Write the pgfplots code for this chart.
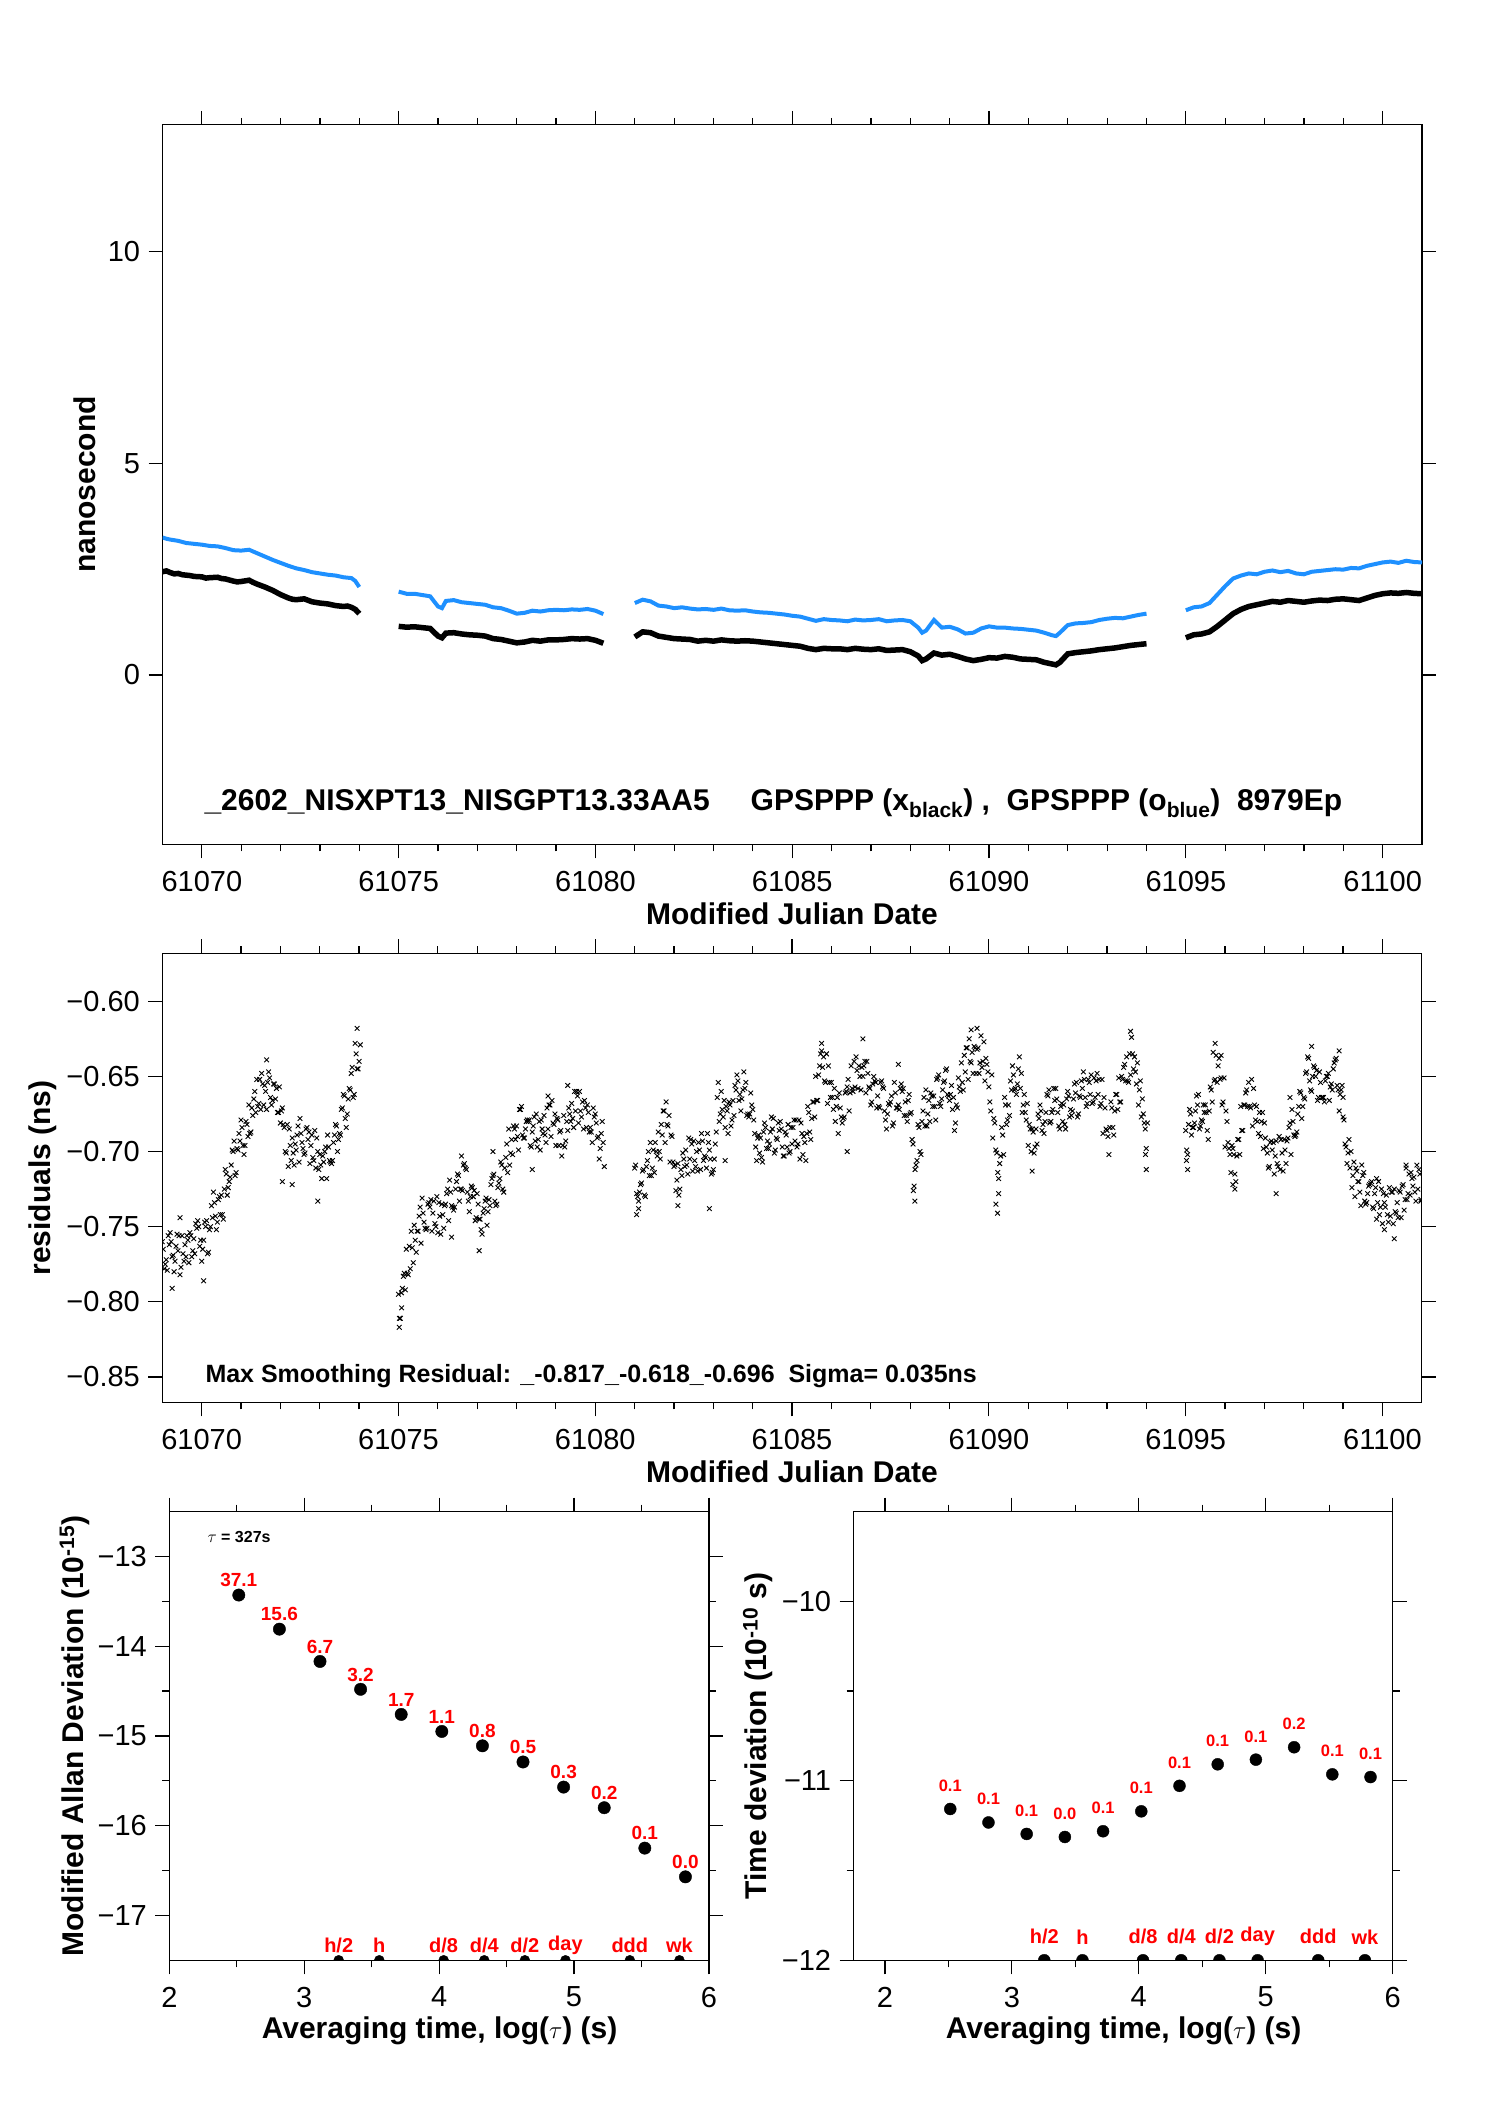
\documentclass[border=0pt]{standalone}
\usepackage{fontspec}
\setmainfont{Liberation Sans}
\usepackage{pgfplots}
\pgfplotsset{compat=1.18}
\definecolor{myblue}{RGB}{30,144,255}
\pgfplotsset{
  myaxis/.style={
    scale only axis, anchor=south west,
    axis line style={line width=1.2bp},
    every tick/.style={line width=1.2bp, black},
    tick align=outside, tick pos=both,
    major tick length=14bp, minor tick length=7bp,
    tick label style={font=\fontsize{29bp}{34bp}\selectfont},
    xticklabel style={yshift=-9bp}, yticklabel style={xshift=-5bp},
    scaled x ticks=false, scaled y ticks=false,
    clip marker paths=true,
  },
  resid/.style={only marks, mark=x, mark size=3.3bp, mark options={line width=0.9bp, black}},
}
\newcommand{\bl}{\bfseries\fontsize{30bp}{36bp}\selectfont}
\begin{document}
\begin{tikzpicture}
\path[use as bounding box] (0bp,0bp) rectangle (1488bp,2105bp);
% ---------------- top panel
\begin{axis}[myaxis, at={(162.5bp,1260.7bp)}, width=1259.5bp, height=719.4bp,
  xmin=61069, xmax=61101, ymin=-4, ymax=13,
  xtick={61070,61075,61080,61085,61090,61095,61100},
  xticklabels={61070,61075,61080,61085,61090,61095,61100},
  minor x tick num=4,
  ytick={0,5,10}, yticklabels={0,5,10}]
\addplot[black, line width=5.5bp] coordinates {(61069.0,2.44)(61069.1,2.46)(61069.2,2.42)(61069.3,2.39)(61069.4,2.40)(61069.5,2.37)(61069.6,2.36)(61069.7,2.35)(61069.8,2.33)(61070.0,2.32)(61070.1,2.29)(61070.2,2.30)(61070.4,2.31)(61070.5,2.28)(61070.6,2.27)(61070.8,2.22)(61070.9,2.20)(61071.0,2.21)(61071.2,2.24)(61071.3,2.19)(61071.4,2.15)(61071.6,2.08)(61071.8,2.00)(61072.0,1.90)(61072.2,1.82)(61072.3,1.79)(61072.4,1.78)(61072.6,1.80)(61072.8,1.73)(61073.0,1.70)(61073.2,1.68)(61073.4,1.64)(61073.6,1.62)(61073.7,1.63)(61073.8,1.60)(61073.9,1.55)(61074.0,1.45)};
\addplot[black, line width=5.5bp] coordinates {(61075.0,1.15)(61075.2,1.13)(61075.4,1.14)(61075.6,1.12)(61075.8,1.10)(61076.0,0.92)(61076.1,0.88)(61076.2,0.99)(61076.4,1.00)(61076.6,0.97)(61076.8,0.95)(61077.0,0.94)(61077.2,0.92)(61077.4,0.86)(61077.6,0.84)(61077.8,0.80)(61078.0,0.76)(61078.2,0.78)(61078.4,0.82)(61078.6,0.80)(61078.8,0.83)(61079.0,0.83)(61079.2,0.84)(61079.4,0.86)(61079.6,0.85)(61079.8,0.86)(61080.0,0.82)(61080.2,0.75)};
\addplot[black, line width=5.5bp] coordinates {(61081.0,0.90)(61081.2,1.02)(61081.4,1.00)(61081.6,0.92)(61081.8,0.89)(61082.0,0.86)(61082.2,0.85)(61082.4,0.84)(61082.6,0.80)(61082.8,0.82)(61083.0,0.80)(61083.2,0.83)(61083.4,0.81)(61083.6,0.80)(61083.8,0.81)(61084.0,0.80)(61084.2,0.78)(61084.4,0.76)(61084.6,0.74)(61084.8,0.72)(61085.0,0.70)(61085.2,0.68)(61085.4,0.63)(61085.6,0.60)(61085.8,0.63)(61086.0,0.62)(61086.2,0.62)(61086.4,0.60)(61086.6,0.63)(61086.8,0.61)(61087.0,0.60)(61087.2,0.62)(61087.4,0.58)(61087.6,0.59)(61087.8,0.60)(61088.0,0.55)(61088.2,0.45)(61088.3,0.34)(61088.4,0.38)(61088.6,0.52)(61088.8,0.47)(61089.0,0.49)(61089.2,0.44)(61089.4,0.38)(61089.6,0.34)(61089.8,0.37)(61090.0,0.41)(61090.2,0.40)(61090.4,0.44)(61090.6,0.42)(61090.8,0.38)(61091.0,0.37)(61091.2,0.36)(61091.4,0.30)(61091.6,0.26)(61091.7,0.24)(61091.8,0.30)(61092.0,0.50)(61092.2,0.53)(61092.4,0.55)(61092.6,0.57)(61092.8,0.60)(61093.0,0.62)(61093.2,0.64)(61093.4,0.67)(61093.6,0.70)(61093.8,0.72)(61094.0,0.74)};
\addplot[black, line width=5.5bp] coordinates {(61095.0,0.88)(61095.2,0.95)(61095.4,0.97)(61095.6,1.02)(61095.8,1.15)(61096.0,1.30)(61096.2,1.45)(61096.4,1.55)(61096.6,1.62)(61096.8,1.66)(61097.0,1.70)(61097.2,1.74)(61097.4,1.72)(61097.6,1.76)(61097.8,1.74)(61098.0,1.72)(61098.2,1.75)(61098.4,1.77)(61098.6,1.76)(61098.8,1.79)(61099.0,1.80)(61099.2,1.78)(61099.4,1.76)(61099.6,1.82)(61099.8,1.88)(61100.0,1.92)(61100.2,1.94)(61100.4,1.93)(61100.6,1.95)(61100.8,1.93)(61101.0,1.92)};
\addplot[myblue, line width=4bp] coordinates {(61069.0,3.25)(61069.1,3.22)(61069.2,3.20)(61069.4,3.17)(61069.6,3.12)(61069.8,3.10)(61070.0,3.08)(61070.2,3.05)(61070.4,3.04)(61070.6,3.00)(61070.8,2.95)(61071.0,2.94)(61071.2,2.96)(61071.4,2.88)(61071.6,2.80)(61071.8,2.72)(61072.0,2.65)(61072.2,2.58)(61072.4,2.52)(61072.6,2.48)(61072.8,2.43)(61073.0,2.40)(61073.2,2.37)(61073.4,2.35)(61073.6,2.31)(61073.8,2.29)(61073.9,2.22)(61074.0,2.08)};
\addplot[myblue, line width=4bp] coordinates {(61075.0,1.97)(61075.2,1.92)(61075.4,1.92)(61075.6,1.89)(61075.8,1.86)(61076.0,1.62)(61076.1,1.58)(61076.2,1.75)(61076.4,1.77)(61076.6,1.72)(61076.8,1.70)(61077.0,1.68)(61077.2,1.66)(61077.4,1.60)(61077.6,1.58)(61077.8,1.52)(61078.0,1.45)(61078.2,1.47)(61078.4,1.52)(61078.6,1.50)(61078.8,1.53)(61079.0,1.54)(61079.2,1.53)(61079.4,1.55)(61079.6,1.54)(61079.8,1.56)(61080.0,1.52)(61080.2,1.44)};
\addplot[myblue, line width=4bp] coordinates {(61081.0,1.70)(61081.2,1.78)(61081.4,1.74)(61081.6,1.64)(61081.8,1.62)(61082.0,1.58)(61082.2,1.60)(61082.4,1.57)(61082.6,1.55)(61082.8,1.56)(61083.0,1.54)(61083.2,1.57)(61083.4,1.53)(61083.6,1.52)(61083.8,1.53)(61084.0,1.50)(61084.2,1.48)(61084.4,1.47)(61084.6,1.45)(61084.8,1.43)(61085.0,1.40)(61085.2,1.38)(61085.4,1.33)(61085.6,1.28)(61085.8,1.32)(61086.0,1.30)(61086.2,1.29)(61086.4,1.27)(61086.6,1.31)(61086.8,1.29)(61087.0,1.30)(61087.2,1.32)(61087.4,1.27)(61087.6,1.29)(61087.8,1.30)(61088.0,1.27)(61088.2,1.12)(61088.3,1.00)(61088.4,1.05)(61088.6,1.30)(61088.8,1.12)(61089.0,1.14)(61089.2,1.08)(61089.4,0.98)(61089.6,1.00)(61089.8,1.10)(61090.0,1.15)(61090.2,1.12)(61090.4,1.12)(61090.6,1.10)(61090.8,1.09)(61091.0,1.07)(61091.2,1.05)(61091.4,1.00)(61091.6,0.94)(61091.7,0.92)(61091.8,1.00)(61092.0,1.18)(61092.2,1.22)(61092.4,1.23)(61092.6,1.25)(61092.8,1.30)(61093.0,1.33)(61093.2,1.35)(61093.4,1.34)(61093.6,1.38)(61093.8,1.42)(61094.0,1.45)};
\addplot[myblue, line width=4bp] coordinates {(61095.0,1.53)(61095.2,1.60)(61095.4,1.62)(61095.6,1.70)(61095.8,1.90)(61096.0,2.10)(61096.2,2.28)(61096.4,2.35)(61096.6,2.40)(61096.8,2.38)(61097.0,2.44)(61097.2,2.47)(61097.4,2.43)(61097.6,2.46)(61097.8,2.40)(61098.0,2.38)(61098.2,2.44)(61098.4,2.46)(61098.6,2.48)(61098.8,2.50)(61099.0,2.49)(61099.2,2.53)(61099.4,2.52)(61099.6,2.58)(61099.8,2.62)(61100.0,2.66)(61100.2,2.68)(61100.4,2.65)(61100.6,2.70)(61100.8,2.67)(61101.0,2.66)};
\end{axis}
% ---------------- middle panel
\begin{axis}[myaxis, at={(162.3bp,702.5bp)}, width=1259.5bp, height=449.3bp,
  xmin=61069, xmax=61101, ymin=-0.867, ymax=-0.568,
  xtick={61070,61075,61080,61085,61090,61095,61100},
  xticklabels={61070,61075,61080,61085,61090,61095,61100},
  minor x tick num=4,
  ytick={-0.85,-0.80,-0.75,-0.70,-0.65,-0.60},
  yticklabels={−0.85,−0.80,−0.75,−0.70,−0.65,−0.60}]
\addplot[resid] coordinates {
(61069.00,-0.760)(61069.05,-0.778)(61069.10,-0.772)(61069.15,-0.756)(61069.20,-0.754)(61069.25,-0.770)(61069.30,-0.780)(61069.35,-0.763)(61069.40,-0.766)(61069.45,-0.782)
(61069.50,-0.756)(61069.55,-0.773)(61069.60,-0.770)(61069.65,-0.759)(61069.70,-0.754)(61069.75,-0.770)(61069.80,-0.758)(61069.85,-0.748)(61069.90,-0.746)(61069.95,-0.763)
(61070.00,-0.773)(61070.05,-0.759)(61070.10,-0.750)(61070.15,-0.768)(61070.20,-0.752)(61070.25,-0.736)(61070.30,-0.727)(61070.35,-0.743)(61070.40,-0.747)(61070.45,-0.730)
(61070.50,-0.729)(61070.55,-0.745)(61070.60,-0.712)(61070.65,-0.729)(61070.70,-0.720)(61070.75,-0.709)(61070.80,-0.700)(61070.85,-0.716)(61070.90,-0.698)(61070.95,-0.688)
(61071.00,-0.679)(61071.05,-0.696)(61071.10,-0.696)(61071.15,-0.682)(61071.20,-0.669)(61071.25,-0.687)(61071.30,-0.676)(61071.35,-0.660)(61071.40,-0.652)(61071.45,-0.668)
(61071.50,-0.672)(61071.55,-0.655)(61071.60,-0.656)(61071.65,-0.672)(61071.70,-0.647)(61071.75,-0.664)(61071.80,-0.666)(61071.85,-0.655)(61071.90,-0.658)(61071.95,-0.674)
(61072.00,-0.681)(61072.05,-0.671)(61072.10,-0.684)(61072.15,-0.701)(61072.20,-0.710)(61072.25,-0.696)(61072.30,-0.691)(61072.35,-0.709)(61072.40,-0.699)(61072.45,-0.683)
(61072.50,-0.678)(61072.55,-0.694)(61072.60,-0.702)(61072.65,-0.685)(61072.70,-0.692)(61072.75,-0.708)(61072.80,-0.689)(61072.85,-0.706)(61072.90,-0.711)(61072.95,-0.700)
(61073.00,-0.702)(61073.05,-0.718)(61073.10,-0.707)(61073.15,-0.697)(61073.20,-0.689)(61073.25,-0.706)(61073.30,-0.708)(61073.35,-0.694)(61073.40,-0.682)(61073.45,-0.700)
(61073.50,-0.688)(61073.55,-0.672)(61073.60,-0.662)(61073.65,-0.678)(61073.70,-0.675)(61073.75,-0.658)(61073.80,-0.648)(61073.85,-0.664)(61073.90,-0.628)(61073.95,-0.645)
(61074.00,-0.640)(61074.03,-0.629)
(61071.65,-0.639)(61072.30,-0.722)(61072.95,-0.733)(61073.95,-0.618)(61069.25,-0.791)(61069.45,-0.744)(61070.05,-0.786)(61072.05,-0.720)
(61075.00,-0.795)(61075.05,-0.811)(61075.10,-0.791)(61075.15,-0.781)(61075.20,-0.765)(61075.25,-0.782)(61075.30,-0.778)(61075.35,-0.764)(61075.40,-0.749)(61075.45,-0.767)
(61075.50,-0.753)(61075.55,-0.737)(61075.60,-0.731)(61075.65,-0.747)(61075.70,-0.752)(61075.75,-0.735)(61075.80,-0.737)(61075.85,-0.753)(61075.90,-0.733)(61075.95,-0.750)
(61076.00,-0.754)(61076.05,-0.743)(61076.10,-0.735)(61076.15,-0.751)(61076.20,-0.735)(61076.25,-0.725)(61076.30,-0.719)(61076.35,-0.736)(61076.40,-0.739)(61076.45,-0.725)
(61076.50,-0.715)(61076.55,-0.733)(61076.60,-0.725)(61076.65,-0.709)(61076.70,-0.711)(61076.75,-0.727)(61076.80,-0.740)(61076.85,-0.723)(61076.90,-0.730)(61076.95,-0.746)
(61077.00,-0.728)(61077.05,-0.745)(61077.10,-0.752)(61077.15,-0.741)(61077.20,-0.733)(61077.25,-0.749)(61077.30,-0.732)(61077.35,-0.722)(61077.40,-0.716)(61077.45,-0.733)
(61077.50,-0.735)(61077.55,-0.721)(61077.60,-0.707)(61077.65,-0.725)(61077.70,-0.711)(61077.75,-0.695)(61077.80,-0.685)(61077.85,-0.701)(61077.90,-0.702)(61077.95,-0.685)
(61078.00,-0.683)(61078.05,-0.699)(61078.10,-0.672)(61078.15,-0.689)(61078.20,-0.691)(61078.25,-0.680)(61078.30,-0.680)(61078.35,-0.696)(61078.40,-0.687)(61078.45,-0.677)
(61078.50,-0.675)(61078.55,-0.692)(61078.60,-0.699)(61078.65,-0.685)(61078.70,-0.676)(61078.75,-0.694)(61078.80,-0.685)(61078.85,-0.669)(61078.90,-0.666)(61078.95,-0.682)
(61079.00,-0.696)(61079.05,-0.679)(61079.10,-0.687)(61079.15,-0.703)(61079.20,-0.676)(61079.25,-0.693)(61079.30,-0.686)(61079.35,-0.675)(61079.40,-0.668)(61079.45,-0.684)
(61079.50,-0.673)(61079.55,-0.663)(61079.60,-0.660)(61079.65,-0.677)(61079.70,-0.685)(61079.75,-0.671)(61079.80,-0.669)(61079.85,-0.687)(61079.90,-0.687)(61079.95,-0.671)
(61080.00,-0.675)(61080.05,-0.691)(61080.10,-0.705)(61080.15,-0.688)(61080.20,-0.694)(61080.23,-0.710)
(61075.02,-0.817)(61075.08,-0.804)(61076.60,-0.703)(61077.05,-0.766)(61076.35,-0.757)(61078.40,-0.712)(61079.30,-0.656)(61078.80,-0.663)(61077.40,-0.700)
(61081.00,-0.711)(61081.05,-0.728)(61081.10,-0.733)(61081.15,-0.722)(61081.20,-0.713)(61081.25,-0.729)(61081.30,-0.710)(61081.35,-0.700)(61081.40,-0.694)(61081.45,-0.711)
(61081.50,-0.714)(61081.55,-0.700)(61081.60,-0.687)(61081.65,-0.705)(61081.70,-0.689)(61081.75,-0.673)(61081.80,-0.667)(61081.85,-0.683)(61081.90,-0.707)(61081.95,-0.690)
(61082.00,-0.710)(61082.05,-0.726)(61082.10,-0.708)(61082.15,-0.725)(61082.20,-0.716)(61082.25,-0.705)(61082.30,-0.699)(61082.35,-0.715)(61082.40,-0.705)(61082.45,-0.695)
(61082.50,-0.693)(61082.55,-0.710)(61082.60,-0.713)(61082.65,-0.699)(61082.70,-0.688)(61082.75,-0.706)(61082.80,-0.704)(61082.85,-0.688)(61082.90,-0.699)(61082.95,-0.715)
(61083.00,-0.712)(61083.05,-0.695)(61083.10,-0.664)(61083.15,-0.680)(61083.20,-0.660)(61083.25,-0.677)(61083.30,-0.684)(61083.35,-0.673)(61083.40,-0.667)(61083.45,-0.683)
(61083.50,-0.666)(61083.55,-0.656)(61083.60,-0.649)(61083.65,-0.666)(61083.70,-0.673)(61083.75,-0.659)(61083.80,-0.658)(61083.85,-0.676)(61083.90,-0.677)(61083.95,-0.661)
(61084.00,-0.672)(61084.05,-0.688)(61084.10,-0.706)(61084.15,-0.689)(61084.20,-0.691)(61084.25,-0.707)(61084.30,-0.681)(61084.35,-0.698)(61084.40,-0.698)(61084.45,-0.687)
(61084.50,-0.685)(61084.55,-0.701)(61084.60,-0.691)(61084.65,-0.681)(61084.70,-0.680)(61084.75,-0.697)(61084.80,-0.703)(61084.85,-0.689)(61084.90,-0.682)(61084.95,-0.700)
(61085.00,-0.695)(61085.05,-0.679)(61085.10,-0.679)(61085.15,-0.695)(61085.20,-0.705)(61085.25,-0.688)(61085.30,-0.690)(61085.35,-0.706)(61085.40,-0.670)(61085.45,-0.687)
(61085.50,-0.678)(61085.55,-0.667)(61085.60,-0.650)(61085.65,-0.666)(61085.70,-0.643)(61085.75,-0.633)(61085.80,-0.637)(61085.85,-0.654)(61085.90,-0.668)(61085.95,-0.654)
(61086.00,-0.654)(61086.05,-0.672)(61086.10,-0.680)(61086.15,-0.664)(61086.20,-0.661)(61086.25,-0.677)(61086.30,-0.678)(61086.35,-0.661)(61086.40,-0.657)(61086.45,-0.673)
(61086.50,-0.643)(61086.55,-0.660)(61086.60,-0.657)(61086.65,-0.646)(61086.70,-0.643)(61086.75,-0.659)(61086.80,-0.650)(61086.85,-0.640)(61086.90,-0.640)(61086.95,-0.657)
(61087.00,-0.669)(61087.05,-0.655)(61087.10,-0.653)(61087.15,-0.671)(61087.20,-0.670)(61087.25,-0.654)(61087.30,-0.657)(61087.35,-0.673)(61087.40,-0.685)(61087.45,-0.668)
(61087.50,-0.667)(61087.55,-0.683)(61087.60,-0.654)(61087.65,-0.671)(61087.70,-0.669)(61087.75,-0.658)(61087.80,-0.660)(61087.85,-0.676)(61087.90,-0.676)(61087.95,-0.666)
(61088.00,-0.675)(61088.05,-0.692)(61088.10,-0.723)(61088.15,-0.709)(61088.20,-0.682)(61088.25,-0.700)(61088.30,-0.680)(61088.35,-0.664)(61088.40,-0.659)(61088.45,-0.675)
(61088.50,-0.680)(61088.55,-0.663)(61088.60,-0.663)(61088.65,-0.679)(61088.70,-0.651)(61088.75,-0.668)(61088.80,-0.665)(61088.85,-0.654)(61088.90,-0.646)(61088.95,-0.662)
(61089.00,-0.666)(61089.05,-0.656)(61089.10,-0.664)(61089.15,-0.681)(61089.20,-0.671)(61089.25,-0.657)(61089.30,-0.641)(61089.35,-0.659)(61089.40,-0.647)(61089.45,-0.631)
(61089.50,-0.625)(61089.55,-0.641)(61089.60,-0.648)(61089.65,-0.631)(61089.70,-0.632)(61089.75,-0.648)(61089.80,-0.623)(61089.85,-0.640)(61089.90,-0.653)(61089.95,-0.642)
(61090.00,-0.657)(61090.05,-0.673)(61090.10,-0.691)(61090.15,-0.681)(61090.20,-0.701)(61090.25,-0.718)(61090.30,-0.703)(61090.35,-0.689)(61090.40,-0.664)(61090.45,-0.682)
(61090.50,-0.669)(61090.55,-0.653)(61090.60,-0.643)(61090.65,-0.659)(61090.70,-0.662)(61090.75,-0.645)(61090.80,-0.658)(61090.85,-0.674)(61090.90,-0.662)(61090.95,-0.679)
(61091.00,-0.696)(61091.05,-0.685)(61091.10,-0.685)(61091.15,-0.701)(61091.20,-0.685)(61091.25,-0.675)(61091.30,-0.669)(61091.35,-0.686)(61091.40,-0.688)(61091.45,-0.674)
(61091.50,-0.663)(61091.55,-0.681)(61091.60,-0.674)(61091.65,-0.658)(61091.70,-0.658)(61091.75,-0.674)(61091.80,-0.685)(61091.85,-0.668)(61091.90,-0.669)(61091.95,-0.685)
(61092.00,-0.660)(61092.05,-0.677)(61092.10,-0.676)(61092.15,-0.665)(61092.20,-0.661)(61092.25,-0.677)(61092.30,-0.663)(61092.35,-0.653)(61092.40,-0.647)(61092.45,-0.664)
(61092.50,-0.668)(61092.55,-0.654)(61092.60,-0.649)(61092.65,-0.667)(61092.70,-0.664)(61092.75,-0.648)(61092.80,-0.652)(61092.85,-0.668)(61092.90,-0.688)(61092.95,-0.671)
(61093.00,-0.686)(61093.05,-0.702)(61093.10,-0.667)(61093.15,-0.684)(61093.20,-0.673)(61093.25,-0.662)(61093.30,-0.651)(61093.35,-0.667)(61093.40,-0.652)(61093.45,-0.642)
(61093.50,-0.637)(61093.55,-0.654)(61093.60,-0.649)(61093.65,-0.635)(61093.70,-0.637)(61093.75,-0.655)(61093.80,-0.669)(61093.85,-0.653)(61093.90,-0.665)(61093.95,-0.681)
(61094.00,-0.698)(61094.03,-0.681)
(61088.12,-0.733)(61088.08,-0.726)(61090.22,-0.741)(61090.18,-0.735)(61090.25,-0.728)(61093.60,-0.620)(61089.70,-0.618)(61089.55,-0.619)(61086.80,-0.625)(61085.75,-0.628)
(61081.05,-0.742)(61081.10,-0.738)(61082.10,-0.736)(61082.90,-0.738)(61094.00,-0.712)(61093.98,-0.702)(61083.30,-0.706)(61087.70,-0.642)(61086.40,-0.700)(61091.10,-0.713)
(61095.00,-0.686)(61095.05,-0.702)(61095.10,-0.672)(61095.15,-0.689)(61095.20,-0.684)(61095.25,-0.673)(61095.30,-0.669)(61095.35,-0.685)(61095.40,-0.679)(61095.45,-0.669)
(61095.50,-0.669)(61095.55,-0.686)(61095.60,-0.673)(61095.65,-0.659)(61095.70,-0.634)(61095.75,-0.652)(61095.80,-0.654)(61095.85,-0.638)(61095.90,-0.651)(61095.95,-0.667)
(61096.00,-0.697)(61096.05,-0.680)(61096.10,-0.698)(61096.15,-0.714)(61096.20,-0.698)(61096.25,-0.715)(61096.30,-0.703)(61096.35,-0.692)(61096.40,-0.670)(61096.45,-0.686)
(61096.50,-0.669)(61096.55,-0.659)(61096.60,-0.654)(61096.65,-0.671)(61096.70,-0.683)(61096.75,-0.669)(61096.80,-0.670)(61096.85,-0.688)(61096.90,-0.690)(61096.95,-0.674)
(61097.00,-0.681)(61097.05,-0.697)(61097.10,-0.711)(61097.15,-0.694)(61097.20,-0.699)(61097.25,-0.715)(61097.30,-0.693)(61097.35,-0.710)(61097.40,-0.712)(61097.45,-0.701)
(61097.50,-0.692)(61097.55,-0.708)(61097.60,-0.691)(61097.65,-0.681)(61097.70,-0.672)(61097.75,-0.689)(61097.80,-0.689)(61097.85,-0.675)(61097.90,-0.660)(61097.95,-0.678)
(61098.00,-0.664)(61098.05,-0.648)(61098.10,-0.637)(61098.15,-0.653)(61098.20,-0.660)(61098.25,-0.643)(61098.30,-0.650)(61098.35,-0.666)(61098.40,-0.647)(61098.45,-0.664)
(61098.50,-0.664)(61098.55,-0.653)(61098.60,-0.650)(61098.65,-0.666)(61098.70,-0.655)(61098.75,-0.645)(61098.80,-0.639)(61098.85,-0.656)(61098.90,-0.673)(61098.95,-0.659)
(61099.00,-0.677)(61099.05,-0.695)(61099.10,-0.708)(61099.15,-0.692)(61099.20,-0.700)(61099.25,-0.716)(61099.30,-0.730)(61099.35,-0.713)(61099.40,-0.720)(61099.45,-0.736)
(61099.50,-0.716)(61099.55,-0.733)(61099.60,-0.734)(61099.65,-0.723)(61099.70,-0.721)(61099.75,-0.737)(61099.80,-0.728)(61099.85,-0.718)(61099.90,-0.720)(61099.95,-0.737)
(61100.00,-0.748)(61100.05,-0.734)(61100.10,-0.729)(61100.15,-0.747)(61100.20,-0.743)(61100.25,-0.727)(61100.30,-0.725)(61100.35,-0.741)(61100.40,-0.744)(61100.45,-0.727)
(61100.50,-0.723)(61100.55,-0.739)(61100.60,-0.711)(61100.65,-0.728)(61100.70,-0.729)(61100.75,-0.718)(61100.80,-0.717)(61100.85,-0.733)(61100.90,-0.725)(61100.95,-0.715)
(61100.98,-0.732)
(61095.05,-0.712)(61095.02,-0.706)(61095.75,-0.628)(61096.20,-0.722)(61096.25,-0.725)(61095.90,-0.636)(61097.30,-0.728)(61098.20,-0.630)(61098.90,-0.633)(61099.00,-0.664)
(61100.05,-0.752)(61100.30,-0.758)(61100.60,-0.709)(61099.85,-0.745)(61097.65,-0.664)
};
\addplot[resid] coordinates {
(61069.025,-0.765)(61069.075,-0.775)(61069.125,-0.779)(61069.175,-0.762)(61069.225,-0.760)(61069.275,-0.769)(61069.325,-0.773)(61069.375,-0.755)(61069.425,-0.756)(61069.475,-0.777)
(61069.525,-0.768)(61069.575,-0.762)(61069.625,-0.756)(61069.675,-0.774)(61069.725,-0.756)(61069.775,-0.766)(61069.825,-0.768)(61069.875,-0.751)(61069.925,-0.750)(61069.975,-0.759)
(61070.025,-0.765)(61070.075,-0.747)(61070.125,-0.746)(61070.175,-0.767)(61070.225,-0.750)(61070.275,-0.744)(61070.325,-0.734)(61070.375,-0.752)(61070.425,-0.732)(61070.475,-0.742)
(61070.525,-0.742)(61070.575,-0.725)(61070.625,-0.715)(61070.675,-0.724)(61070.725,-0.717)(61070.775,-0.699)(61070.825,-0.693)(61070.875,-0.714)(61070.925,-0.699)(61070.975,-0.693)
(61071.025,-0.684)(61071.075,-0.702)(61071.125,-0.680)(61071.175,-0.690)(61071.225,-0.688)(61071.275,-0.671)(61071.325,-0.665)(61071.375,-0.674)(61071.425,-0.670)(61071.475,-0.652)
(61071.525,-0.648)(61071.575,-0.669)(61071.625,-0.660)(61071.675,-0.654)(61071.725,-0.651)(61071.775,-0.669)(61071.825,-0.655)(61071.875,-0.665)(61071.925,-0.674)(61071.975,-0.657)
(61072.025,-0.673)(61072.075,-0.682)(61072.125,-0.700)(61072.175,-0.682)(61072.225,-0.685)(61072.275,-0.706)(61072.325,-0.701)(61072.375,-0.695)(61072.425,-0.689)(61072.475,-0.707)
(61072.525,-0.688)(61072.575,-0.698)(61072.625,-0.701)(61072.675,-0.684)(61072.725,-0.687)(61072.775,-0.696)(61072.825,-0.704)(61072.875,-0.686)(61072.925,-0.691)(61072.975,-0.712)
(61073.025,-0.709)(61073.075,-0.703)(61073.125,-0.700)(61073.175,-0.718)(61073.225,-0.697)(61073.275,-0.707)(61073.325,-0.706)(61073.375,-0.689)(61073.425,-0.683)(61073.475,-0.692)
(61073.525,-0.689)(61073.575,-0.671)(61073.625,-0.663)(61073.675,-0.684)(61073.725,-0.665)(61073.775,-0.659)(61073.825,-0.644)(61073.875,-0.662)(61073.925,-0.635)(61073.975,-0.645)
(61075.025,-0.811)(61075.075,-0.794)(61075.125,-0.783)(61075.175,-0.792)(61075.225,-0.781)(61075.275,-0.763)(61075.325,-0.753)(61075.375,-0.774)(61075.425,-0.759)(61075.475,-0.753)
(61075.525,-0.743)(61075.575,-0.761)(61075.625,-0.741)(61075.675,-0.751)(61075.725,-0.751)(61075.775,-0.734)(61075.825,-0.732)(61075.875,-0.741)(61075.925,-0.748)(61075.975,-0.730)
(61076.025,-0.734)(61076.075,-0.755)(61076.125,-0.742)(61076.175,-0.736)(61076.225,-0.728)(61076.275,-0.746)(61076.325,-0.727)(61076.375,-0.737)(61076.425,-0.737)(61076.475,-0.720)
(61076.525,-0.716)(61076.575,-0.725)(61076.625,-0.726)(61076.675,-0.708)(61076.725,-0.712)(61076.775,-0.733)(61076.825,-0.730)(61076.875,-0.724)(61076.925,-0.726)(61076.975,-0.744)
(61077.025,-0.735)(61077.075,-0.745)(61077.125,-0.755)(61077.175,-0.738)(61077.225,-0.731)(61077.275,-0.740)(61077.325,-0.736)(61077.375,-0.718)(61077.425,-0.715)(61077.475,-0.736)
(61077.525,-0.724)(61077.575,-0.718)(61077.625,-0.709)(61077.675,-0.727)(61077.725,-0.704)(61077.775,-0.714)(61077.825,-0.709)(61077.875,-0.692)(61077.925,-0.683)(61077.975,-0.692)
(61078.025,-0.690)(61078.075,-0.672)(61078.125,-0.670)(61078.175,-0.691)(61078.225,-0.685)(61078.275,-0.679)(61078.325,-0.679)(61078.375,-0.697)(61078.425,-0.683)(61078.475,-0.693)
(61078.525,-0.697)(61078.575,-0.680)(61078.625,-0.679)(61078.675,-0.688)(61078.725,-0.689)(61078.775,-0.671)(61078.825,-0.669)(61078.875,-0.690)(61078.925,-0.681)(61078.975,-0.675)
(61079.025,-0.678)(61079.075,-0.696)(61079.125,-0.686)(61079.175,-0.696)(61079.225,-0.697)(61079.275,-0.680)(61079.325,-0.671)(61079.375,-0.680)(61079.425,-0.678)(61079.475,-0.660)
(61079.525,-0.660)(61079.575,-0.681)(61079.625,-0.673)(61079.675,-0.667)(61079.725,-0.666)(61079.775,-0.684)(61079.825,-0.674)(61079.875,-0.684)(61079.925,-0.694)(61079.975,-0.677)
(61080.025,-0.681)(61080.075,-0.690)(61080.125,-0.698)(61080.175,-0.680)
(61081.025,-0.709)(61081.075,-0.730)(61081.125,-0.727)(61081.175,-0.721)(61081.225,-0.712)(61081.275,-0.730)(61081.325,-0.706)(61081.375,-0.716)(61081.425,-0.716)(61081.475,-0.699)
(61081.525,-0.694)(61081.575,-0.703)(61081.625,-0.700)(61081.675,-0.682)(61081.725,-0.673)(61081.775,-0.694)(61081.825,-0.682)(61081.875,-0.676)(61081.925,-0.689)(61081.975,-0.707)
(61082.025,-0.709)(61082.075,-0.719)(61082.125,-0.729)(61082.175,-0.712)(61082.225,-0.701)(61082.275,-0.710)(61082.325,-0.709)(61082.375,-0.691)(61082.425,-0.692)(61082.475,-0.713)
(61082.525,-0.706)(61082.575,-0.700)(61082.625,-0.694)(61082.675,-0.712)(61082.725,-0.693)(61082.775,-0.703)(61082.825,-0.711)(61082.875,-0.694)(61082.925,-0.705)(61082.975,-0.714)
(61083.025,-0.705)(61083.075,-0.687)(61083.125,-0.654)(61083.175,-0.675)(61083.225,-0.672)(61083.275,-0.666)(61083.325,-0.670)(61083.375,-0.688)(61083.425,-0.669)(61083.475,-0.679)
(61083.525,-0.676)(61083.575,-0.659)(61083.625,-0.653)(61083.675,-0.662)(61083.725,-0.665)(61083.775,-0.647)(61083.825,-0.654)(61083.875,-0.675)(61083.925,-0.675)(61083.975,-0.669)
(61084.025,-0.679)(61084.075,-0.697)(61084.125,-0.691)(61084.175,-0.701)(61084.225,-0.704)(61084.275,-0.687)(61084.325,-0.684)(61084.375,-0.693)(61084.425,-0.695)(61084.475,-0.677)
(61084.525,-0.678)(61084.575,-0.699)(61084.625,-0.692)(61084.675,-0.686)(61084.725,-0.685)(61084.775,-0.703)(61084.825,-0.687)(61084.875,-0.697)(61084.925,-0.701)(61084.975,-0.684)
(61085.025,-0.684)(61085.075,-0.693)(61085.125,-0.697)(61085.175,-0.679)(61085.225,-0.681)(61085.275,-0.702)(61085.325,-0.694)(61085.375,-0.688)(61085.425,-0.674)(61085.475,-0.692)
(61085.525,-0.667)(61085.575,-0.677)(61085.625,-0.666)(61085.675,-0.649)(61085.725,-0.635)(61085.775,-0.644)(61085.825,-0.653)(61085.875,-0.635)(61085.925,-0.643)(61085.975,-0.664)
(61086.025,-0.664)(61086.075,-0.658)(61086.125,-0.670)(61086.175,-0.688)(61086.225,-0.671)(61086.275,-0.681)(61086.325,-0.677)(61086.375,-0.660)(61086.425,-0.652)(61086.475,-0.661)
(61086.525,-0.658)(61086.575,-0.640)(61086.625,-0.637)(61086.675,-0.658)(61086.725,-0.650)(61086.775,-0.644)(61086.825,-0.643)(61086.875,-0.661)(61086.925,-0.648)(61086.975,-0.658)
(61087.025,-0.667)(61087.075,-0.650)(61087.125,-0.654)(61087.175,-0.663)(61087.225,-0.671)(61087.275,-0.653)(61087.325,-0.658)(61087.375,-0.679)(61087.425,-0.675)(61087.475,-0.669)
(61087.525,-0.663)(61087.575,-0.681)(61087.625,-0.661)(61087.675,-0.671)(61087.725,-0.672)(61087.775,-0.655)(61087.825,-0.658)(61087.875,-0.667)(61087.925,-0.680)(61087.975,-0.662)
(61088.025,-0.674)(61088.075,-0.695)(61088.125,-0.712)(61088.175,-0.706)(61088.225,-0.684)(61088.275,-0.702)(61088.325,-0.673)(61088.375,-0.683)(61088.425,-0.683)(61088.475,-0.666)
(61088.525,-0.661)(61088.575,-0.670)(61088.625,-0.670)(61088.675,-0.652)(61088.725,-0.649)(61088.775,-0.670)(61088.825,-0.659)(61088.875,-0.653)(61088.925,-0.645)(61088.975,-0.663)
(61089.025,-0.662)(61089.075,-0.672)(61089.125,-0.686)(61089.175,-0.669)(61089.225,-0.651)(61089.275,-0.660)(61089.325,-0.654)(61089.375,-0.636)(61089.425,-0.631)(61089.475,-0.652)
(61089.525,-0.640)(61089.575,-0.634)(61089.625,-0.630)(61089.675,-0.648)(61089.725,-0.631)(61089.775,-0.641)(61089.825,-0.644)(61089.875,-0.627)(61089.925,-0.638)(61089.975,-0.647)
(61090.025,-0.667)(61090.075,-0.649)(61090.125,-0.678)(61090.175,-0.699)(61090.225,-0.714)(61090.275,-0.708)(61090.325,-0.684)(61090.375,-0.702)(61090.425,-0.669)(61090.475,-0.679)
(61090.525,-0.676)(61090.575,-0.659)(61090.625,-0.649)(61090.675,-0.658)(61090.725,-0.655)(61090.775,-0.637)(61090.825,-0.648)(61090.875,-0.669)(61090.925,-0.674)(61090.975,-0.668)
(61091.025,-0.682)(61091.075,-0.700)(61091.125,-0.687)(61091.175,-0.697)(61091.225,-0.695)(61091.275,-0.678)(61091.325,-0.673)(61091.375,-0.682)(61091.425,-0.680)(61091.475,-0.662)
(61091.525,-0.659)(61091.575,-0.680)(61091.625,-0.672)(61091.675,-0.666)(61091.725,-0.665)(61091.775,-0.683)(61091.825,-0.670)(61091.875,-0.680)(61091.925,-0.682)(61091.975,-0.665)
(61092.025,-0.663)(61092.075,-0.672)(61092.125,-0.673)(61092.175,-0.655)(61092.225,-0.654)(61092.275,-0.675)(61092.325,-0.664)(61092.375,-0.658)(61092.425,-0.652)(61092.475,-0.670)
(61092.525,-0.652)(61092.575,-0.662)(61092.625,-0.668)(61092.675,-0.651)(61092.725,-0.653)(61092.775,-0.662)(61092.825,-0.670)(61092.875,-0.652)(61092.925,-0.664)(61092.975,-0.685)
(61093.025,-0.690)(61093.075,-0.684)(61093.125,-0.671)(61093.175,-0.689)(61093.225,-0.662)(61093.275,-0.672)(61093.325,-0.667)(61093.375,-0.650)(61093.425,-0.644)(61093.475,-0.653)
(61093.525,-0.653)(61093.575,-0.635)(61093.625,-0.624)(61093.675,-0.645)(61093.725,-0.647)(61093.775,-0.641)(61093.825,-0.659)(61093.875,-0.677)(61093.925,-0.675)(61093.975,-0.685)
(61095.025,-0.699)(61095.075,-0.682)(61095.125,-0.675)(61095.175,-0.684)(61095.225,-0.681)(61095.275,-0.663)(61095.325,-0.662)(61095.375,-0.683)(61095.425,-0.680)(61095.475,-0.674)
(61095.525,-0.674)(61095.575,-0.692)(61095.625,-0.657)(61095.675,-0.667)(61095.725,-0.653)(61095.775,-0.636)(61095.825,-0.643)(61095.875,-0.652)(61095.925,-0.669)(61095.975,-0.651)
(61096.025,-0.673)(61096.075,-0.694)(61096.125,-0.702)(61096.175,-0.696)(61096.225,-0.702)(61096.275,-0.720)(61096.325,-0.692)(61096.375,-0.702)(61096.425,-0.686)(61096.475,-0.669)
(61096.525,-0.661)(61096.575,-0.670)(61096.625,-0.670)(61096.675,-0.652)(61096.725,-0.658)(61096.775,-0.679)(61096.825,-0.680)(61096.875,-0.674)(61096.925,-0.680)(61096.975,-0.698)
(61097.025,-0.691)(61097.075,-0.701)(61097.125,-0.710)(61097.175,-0.693)(61097.225,-0.694)(61097.275,-0.703)(61097.325,-0.708)(61097.375,-0.690)(61097.425,-0.692)(61097.475,-0.713)
(61097.525,-0.699)(61097.575,-0.693)(61097.625,-0.684)(61097.675,-0.702)(61097.725,-0.680)(61097.775,-0.690)(61097.825,-0.687)(61097.875,-0.670)(61097.925,-0.661)(61097.975,-0.670)
(61098.025,-0.665)(61098.075,-0.647)(61098.125,-0.638)(61098.175,-0.659)(61098.225,-0.650)(61098.275,-0.644)(61098.325,-0.646)(61098.375,-0.664)(61098.425,-0.654)(61098.475,-0.664)
(61098.525,-0.667)(61098.575,-0.650)(61098.625,-0.648)(61098.675,-0.657)(61098.725,-0.659)(61098.775,-0.641)(61098.825,-0.638)(61098.875,-0.659)(61098.925,-0.662)(61098.975,-0.656)
(61099.025,-0.679)(61099.075,-0.697)(61099.125,-0.701)(61099.175,-0.711)(61099.225,-0.724)(61099.275,-0.707)(61099.325,-0.711)(61099.375,-0.720)(61099.425,-0.727)(61099.475,-0.709)
(61099.525,-0.714)(61099.575,-0.735)(61099.625,-0.728)(61099.675,-0.722)(61099.725,-0.720)(61099.775,-0.738)(61099.825,-0.724)(61099.875,-0.734)(61099.925,-0.742)(61099.975,-0.725)
(61100.025,-0.728)(61100.075,-0.737)(61100.125,-0.742)(61100.175,-0.724)(61100.225,-0.727)(61100.275,-0.748)(61100.325,-0.740)(61100.375,-0.734)(61100.425,-0.726)(61100.475,-0.744)
(61100.525,-0.722)(61100.575,-0.732)(61100.625,-0.732)(61100.675,-0.715)(61100.725,-0.714)(61100.775,-0.723)(61100.825,-0.727)(61100.875,-0.709)(61100.925,-0.712)(61100.975,-0.733)
};
\end{axis}
% ---------------- bottom left panel
\begin{axis}[myaxis, at={(169.4bp,144.7bp)}, width=539.5bp, height=448.7bp,
  xmin=2, xmax=6, ymin=-17.5, ymax=-12.5,
  xtick={2,3,4,5,6}, xticklabels={2,3,4,5,6}, minor x tick num=1,
  ytick={-17,-16,-15,-14,-13}, yticklabels={−17,−16,−15,−14,−13}, minor y tick num=1,
  nodes near coords, point meta=explicit symbolic]
\addplot[only marks, mark=*, mark size=6.2bp, black,
  every node near coord/.style={red, anchor=center, yshift=14.8bp, font=\bfseries\fontsize{19bp}{23bp}\selectfont}]
  table[meta=lab, row sep=\\] {
x y lab\\
2.5145 -13.43 37.1\\
2.8156 -13.81 15.6\\
3.1166 -14.17 6.7\\
3.4176 -14.48 3.2\\
3.7187 -14.76 1.7\\
4.0197 -14.95 1.1\\
4.3208 -15.11 0.8\\
4.6218 -15.29 0.5\\
4.9228 -15.57 0.3\\
5.2239 -15.80 0.2\\
5.5249 -16.25 0.1\\
5.8259 -16.57 0.0\\
};
\addplot[only marks, mark=*, mark size=5bp, black,
  every node near coord/.style={red, anchor=center, yshift=14.8bp, font=\bfseries\fontsize{20bp}{24bp}\selectfont}]
  table[meta=lab, row sep=\\] {
x y lab\\
3.2553 -17.5 h/2\\
3.5563 -17.5 h\\
4.0334 -17.5 d/8\\
4.3345 -17.5 d/4\\
4.6355 -17.5 d/2\\
4.9365 -17.5 day\\
5.4138 -17.5 ddd\\
5.7817 -17.5 wk\\
};
\end{axis}
% ---------------- bottom right panel
\begin{axis}[myaxis, at={(853.6bp,144.7bp)}, width=539bp, height=448.7bp,
  xmin=1.753, xmax=6, ymin=-12, ymax=-9.5,
  xtick={2,3,4,5,6}, xticklabels={2,3,4,5,6}, minor x tick num=1,
  ytick={-12,-11,-10}, yticklabels={−12,−11,−10}, minor y tick num=1,
  nodes near coords, point meta=explicit symbolic]
\addplot[only marks, mark=*, mark size=6bp, black,
  every node near coord/.style={red, anchor=center, yshift=23.3bp, font=\bfseries\fontsize{16.5bp}{20bp}\selectfont}]
  table[meta=lab, row sep=\\] {
x y lab\\
2.5145 -11.157 0.1\\
2.8156 -11.232 0.1\\
3.1166 -11.296 0.1\\
3.4176 -11.313 0.0\\
3.7187 -11.281 0.1\\
4.0197 -11.170 0.1\\
4.3208 -11.028 0.1\\
4.6218 -10.908 0.1\\
4.9228 -10.882 0.1\\
5.2239 -10.813 0.2\\
5.5249 -10.964 0.1\\
5.8259 -10.979 0.1\\
};
\addplot[only marks, mark=*, mark size=6bp, black,
  every node near coord/.style={red, anchor=center, yshift=23.5bp, font=\bfseries\fontsize{20bp}{24bp}\selectfont}]
  table[meta=lab, row sep=\\] {
x y lab\\
3.2553 -12 h/2\\
3.5563 -12 h\\
4.0334 -12 d/8\\
4.3345 -12 d/4\\
4.6355 -12 d/2\\
4.9365 -12 day\\
5.4138 -12 ddd\\
5.7817 -12 wk\\
};
\end{axis}
% ---------------- texts
\node[rotate=90, font=\bl] at (85bp,1620.4bp) {nanosecond};
\node[font=\bl] at (792bp,1191.6bp) {Modified Julian Date};
\node[anchor=base west, font=\bl] at (201bp,1294.5bp) {\_2602\_NISXPT13\_NISGPT13.33AA5\hspace{41bp}GPSPPP (x\textsubscript{black}) ,\ \ GPSPPP (o\textsubscript{blue})\ \ 8979Ep};
\node[rotate=90, font=\bl] at (42.7bp,927bp) {residuals (ns)};
\node[font=\bl] at (792bp,633bp) {Modified Julian Date};
\node[anchor=base west, font=\bfseries\fontsize{25bp}{30bp}\selectfont] at (202bp,722bp) {Max Smoothing Residual: \_-0.817\_-0.618\_-0.696\ \ Sigma= 0.035ns};
\node[anchor=west, font=\bfseries\fontsize{16bp}{19bp}\selectfont] at (204bp,568.3bp) {$\tau$ = 327s};
\node[rotate=90, font=\bl] at (74.5bp,369bp) {Modified Allan Deviation (10\textsuperscript{-15})};
\node[font=\bl] at (439.6bp,74.5bp) {Averaging time, log($\tau$) (s)};
\node[rotate=90, font=\bl] at (758bp,369bp) {Time deviation (10\textsuperscript{-10} s)};
\node[font=\bl] at (1123.6bp,74.5bp) {Averaging time, log($\tau$) (s)};
\end{tikzpicture}
\end{document}
